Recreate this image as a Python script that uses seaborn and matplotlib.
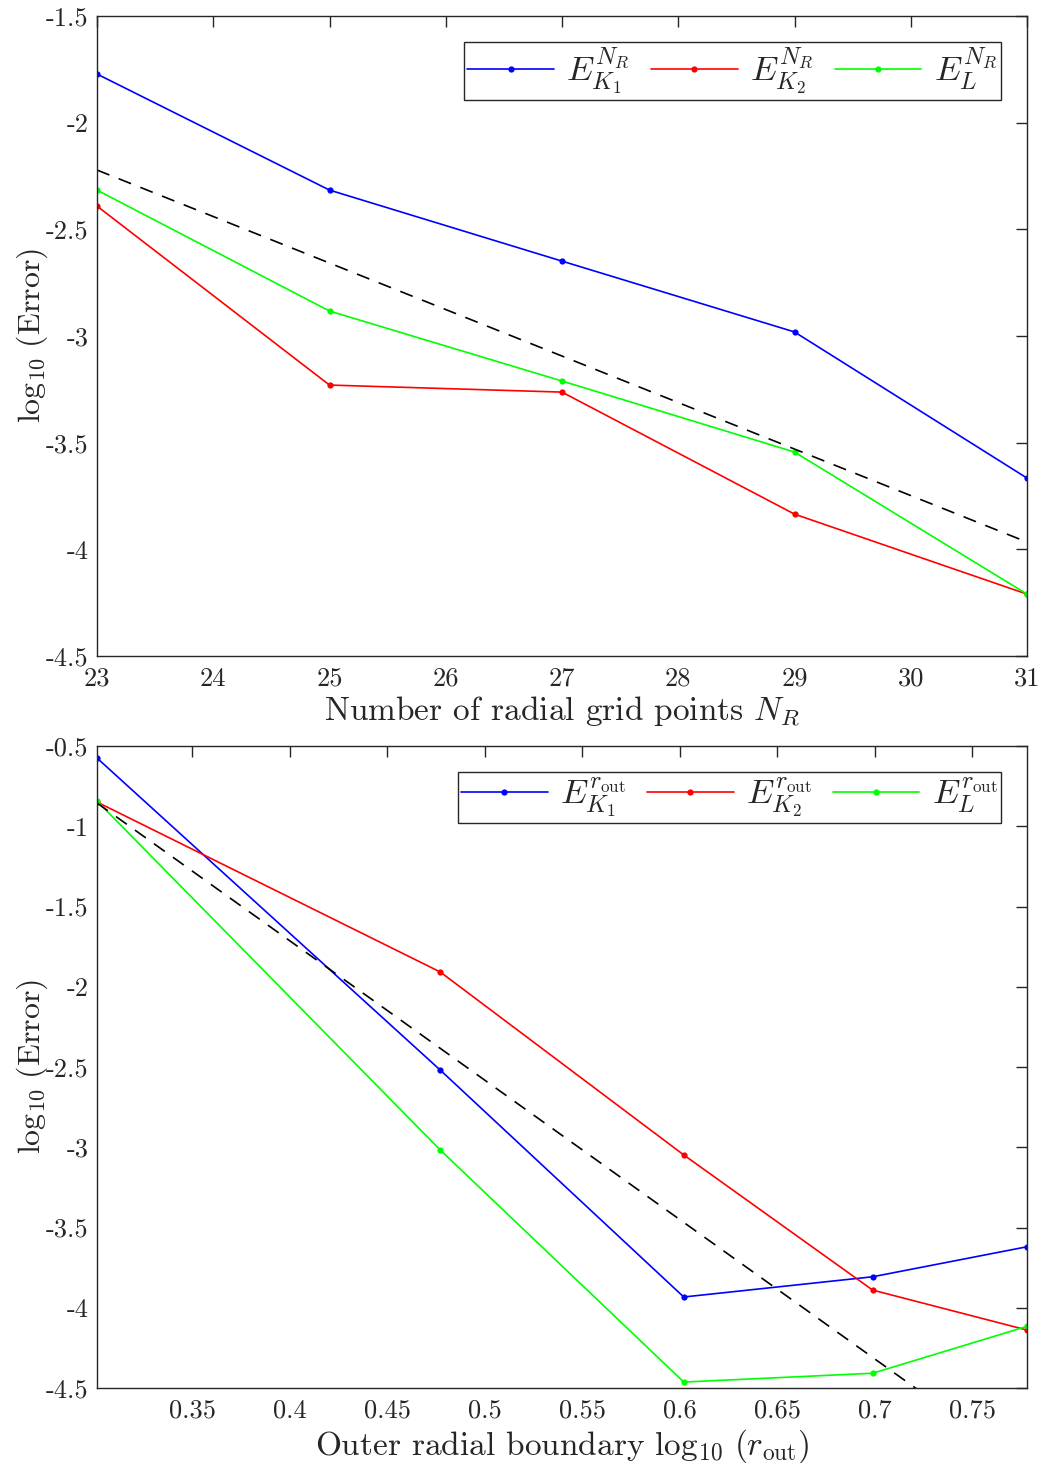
import numpy as np
import pandas as pd
import seaborn as sns
import matplotlib
matplotlib.use("Agg")
import matplotlib.pyplot as plt
from matplotlib.ticker import FixedLocator, FixedFormatter

# ---------------- data ----------------
nr_points = [23, 25, 27, 29, 31]
nr_EK1 = [-1.772, -2.316, -2.649, -2.981, -3.666]
nr_EK2 = [-2.391, -3.230, -3.263, -3.835, -4.210]
nr_EL = [-2.316, -2.883, -3.211, -3.544, -4.210]
nr_ref_x = [23, 31]
nr_ref_y = [-2.222, -3.966]

rout_x = [0.30103, 0.47712, 0.60206, 0.69897, 0.77815]
rout_EK1 = [-0.575, -2.519, -3.933, -3.807, -3.620]
rout_EK2 = [-0.849, -1.908, -3.048, -3.890, -4.139]
rout_EL = [-0.843, -3.017, -4.463, -4.408, -4.116]
rout_ref_x = [0.30103, 0.77815]
rout_ref_y = [-0.855, -4.997]

top_xticks = [23, 24, 25, 26, 27, 28, 29, 30, 31]
top_yticks = [-4.5, -4, -3.5, -3, -2.5, -2, -1.5]
top_yticklabels = ["-4.5", "-4", "-3.5", "-3", "-2.5", "-2", "-1.5"]
bot_xticks = [0.35, 0.4, 0.45, 0.5, 0.55, 0.6, 0.65, 0.7, 0.75]
bot_xticklabels = ["0.35", "0.4", "0.45", "0.5", "0.55", "0.6", "0.65", "0.7", "0.75"]
bot_yticks = [-4.5, -4, -3.5, -3, -2.5, -2, -1.5, -1, -0.5]
bot_yticklabels = ["-4.5", "-4", "-3.5", "-3", "-2.5", "-2", "-1.5", "-1", "-0.5"]

top_labels = [r"$E_{K_1}^{N_R}$", r"$E_{K_2}^{N_R}$", r"$E_{L}^{N_R}$"]
bot_labels = [r"$E_{K_1}^{r_{\mathrm{out}}}$", r"$E_{K_2}^{r_{\mathrm{out}}}$", r"$E_{L}^{r_{\mathrm{out}}}$"]
colors = ["#0000ff", "#ff0000", "#00ff00"]

# ---------------- style ----------------
sns.set_theme(style="white")
plt.rcParams["font.family"] = ["cmr10", "DejaVu Serif"]
plt.rcParams["mathtext.fontset"] = "cm"
plt.rcParams["axes.unicode_minus"] = False
plt.rcParams["axes.formatter.use_mathtext"] = True

axcol = "#262626"

fig = plt.figure(figsize=(10.41, 14.63), dpi=100)
ax1 = fig.add_axes([97 / 1041, 1 - 656 / 1463, 930 / 1041, 640 / 1463])
ax2 = fig.add_axes([97 / 1041, 1 - 1388 / 1463, 930 / 1041, 642 / 1463])


def draw(ax, x, series, labels, refx, refy):
    for ys, lab, c in zip(series, labels, colors):
        df = pd.DataFrame({"x": x, "y": ys})
        sns.lineplot(data=df, x="x", y="y", ax=ax, color=c, marker="o",
                     markersize=4.5, markeredgewidth=0, linewidth=1.2, label=lab,
                     estimator=None, sort=False)
    dref = pd.DataFrame({"x": refx, "y": refy})
    sns.lineplot(data=dref, x="x", y="y", ax=ax, color="black", linewidth=1.2,
                 estimator=None, legend=False, dashes=False)
    ax.lines[-1].set_linestyle((0, (8, 6)))


draw(ax1, nr_points, [nr_EK1, nr_EK2, nr_EL], top_labels, nr_ref_x, nr_ref_y)
draw(ax2, rout_x, [rout_EK1, rout_EK2, rout_EL], bot_labels, rout_ref_x, rout_ref_y)

ax1.set_xlim(23, 31)
ax1.set_ylim(-4.5, -1.5)
ax1.xaxis.set_major_locator(FixedLocator(top_xticks))
ax1.xaxis.set_major_formatter(FixedFormatter([str(v) for v in top_xticks]))
ax1.yaxis.set_major_locator(FixedLocator(top_yticks))
ax1.yaxis.set_major_formatter(FixedFormatter(top_yticklabels))
ax1.set_xlabel(r"Number of radial grid points $N_R$", fontsize=24, labelpad=2)
ax1.set_ylabel(r"$\log_{10}\,(\mathrm{Error})$", fontsize=23, labelpad=-3)

ax2.set_xlim(0.30103, 0.77815)
ax2.set_ylim(-4.5, -0.5)
ax2.xaxis.set_major_locator(FixedLocator(bot_xticks))
ax2.xaxis.set_major_formatter(FixedFormatter(bot_xticklabels))
ax2.yaxis.set_major_locator(FixedLocator(bot_yticks))
ax2.yaxis.set_major_formatter(FixedFormatter(bot_yticklabels))
ax2.set_xlabel(r"Outer radial boundary $\log_{10}\,(r_{\mathrm{out}})$", fontsize=24, labelpad=3)
ax2.set_ylabel(r"$\log_{10}\,(\mathrm{Error})$", fontsize=23, labelpad=-3)

for ax in (ax1, ax2):
    for s in ax.spines.values():
        s.set_color(axcol)
        s.set_linewidth(1.0)
    ax.tick_params(direction="in", top=True, right=True, length=8, width=1.0,
                   color=axcol, labelsize=19, labelcolor="#262626")
    ax.tick_params(axis="x", pad=8)
    ax.tick_params(axis="y", pad=6)
    leg = ax.legend(loc="upper right", ncol=3, fontsize=25, frameon=True,
                    fancybox=False, framealpha=1, edgecolor=axcol,
                    handlelength=2.5, handletextpad=0.35, columnspacing=0.6,
                    borderpad=0.1, borderaxespad=0.75, numpoints=1)
    leg.get_frame().set_linewidth(1.0)

fig.savefig("out.png", dpi=100)
